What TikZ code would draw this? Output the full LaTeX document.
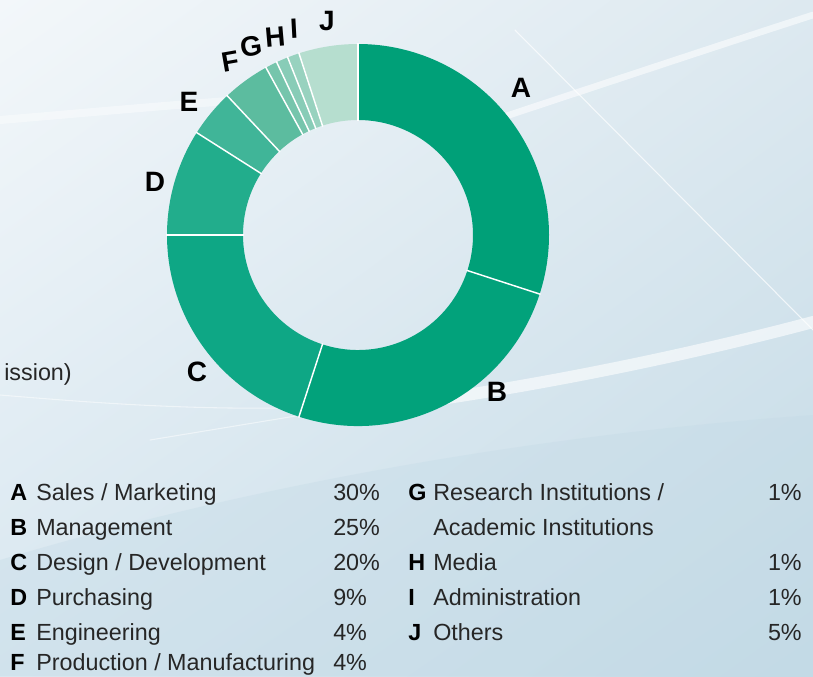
\documentclass[tikz,border=0pt]{standalone}
\usepackage{fontspec}
\setmainfont{Liberation Sans}
\usetikzlibrary{positioning,shadings}
\definecolor{segA}{HTML}{00A078}
\definecolor{segB}{HTML}{02A27B}
\definecolor{segC}{HTML}{0EA785}
\definecolor{segD}{HTML}{22AD8C}
\definecolor{segE}{HTML}{40B598}
\definecolor{segF}{HTML}{5CBC9F}
\definecolor{segG}{HTML}{76C5AC}
\definecolor{segH}{HTML}{88CCB7}
\definecolor{segI}{HTML}{98D2BF}
\definecolor{segJ}{HTML}{B6DECF}
\definecolor{bgTL}{HTML}{F3F7FA}
\definecolor{bgTR}{HTML}{DDE9F0}
\definecolor{bgBL}{HTML}{D8E7F0}
\definecolor{bgBR}{HTML}{C3DAE6}
\tikzset{
	seglabel/.style = {
		font=\bfseries\fontsize{21}{21}\selectfont,
		text=black,
		inner sep=0pt
	},
	legkey/.style = {
		anchor=base west,
		font=\bfseries\fontsize{17.5}{17.5}\selectfont,
		inner sep=0pt
	},
	legtext/.style = {
		anchor=base west,
		font=\fontsize{17.5}{17.5}\selectfont,
		text=black!85,
		inner sep=0pt
	},
	legval/.style = {
		legtext,
		anchor=base east
	},
	swoosh/.style = {
		white,
		line cap=round
	}
}

\begin{document}
\begin{tikzpicture}[x=0.75pt,y=-0.75pt]
	\useasboundingbox (0,0) rectangle (813,676);
	\shade[upper left=bgTL, upper right=bgTR, lower left=bgBL, lower right=bgBR] (0,0) rectangle (813,676);
	\fill[bgBR, opacity=.35] (0,676) -- (0,560) .. controls (300,470) and (600,430) .. (813,415) -- (813,676) -- cycle;
	\draw[swoosh, opacity=.55, line width=5pt] (470,128) .. controls (600,85) and (720,45) .. (813,15);
	\draw[swoosh, opacity=.7, line width=.8pt] (515,30) -- (813,330);
	\draw[swoosh, opacity=.6, line width=9pt] (420,402) .. controls (560,382) and (700,352) .. (813,322);
	\draw[swoosh, opacity=.5, line width=.8pt] (0,395) .. controls (120,405) and (250,415) .. (420,402);
	\draw[swoosh, opacity=.4, line width=6pt] (0,120) .. controls (120,110) and (220,100) .. (330,95);
	\draw[swoosh, opacity=.5, line width=.8pt] (150,440) -- (320,412);
	\begin{scope}[shift={(358,235)}, x=0.75pt, y=0.75pt]
		\coordinate (ctr) at (0,0);
		\foreach \s/\e/\c in {90/-18/segA, -18/-108/segB, -108/-180/segC, 180/147.6/segD, 147.6/133.2/segE,
			133.2/118.8/segF, 118.8/115.2/segG, 115.2/111.6/segH, 111.6/108/segI, 108/90/segJ}
			\fill[\c] (\s:191) arc[start angle=\s, end angle=\e, radius=191] -- (\e:115) arc[start angle=\e, end angle=\s, radius=115] -- cycle;
		\foreach \a in {90, -18, -108, 180, 147.6, 133.2, 118.8, 115.2, 111.6, 108}
			\draw[white, line width=1.1pt] (\a:114) -- (\a:192);
	\end{scope}
	\node[seglabel] (labA) at (521,88) {A};
	\node[seglabel] (labB) at (497,392) {B};
	\node[seglabel] (labC) at (197,372) {C};
	\node[seglabel] (labD) at (155,182) {D};
	\node[seglabel] (labE) at (189,102) {E};
	\node[seglabel, rotate=10] (labF) at (230,62) {F};
	\node[seglabel, rotate=8] (labG) at (251,46) {G};
	\node[seglabel, rotate=5] (labH) at (275,37) {H};
	\node[seglabel, rotate=3] (labI) at (294,29) {I};
	\node[seglabel] (labJ) at (327,21) {J};
	\node[legtext, anchor=base east] (cutoff) at (72,380) {ission)};
	\node[legkey] (keyA) at (10,500) {A};
	\node[legtext] (txtA) at (36,500) {Sales / Marketing};
	\node[legtext] (valA) at (333,500) {30\%};
	\node[legkey] (keyB) at (10,535) {B};
	\node[legtext] (txtB) at (36,535) {Management};
	\node[legtext] (valB) at (333,535) {25\%};
	\node[legkey] (keyC) at (10,570) {C};
	\node[legtext] (txtC) at (36,570) {Design / Development};
	\node[legtext] (valC) at (333,570) {20\%};
	\node[legkey] (keyD) at (10,605) {D};
	\node[legtext] (txtD) at (36,605) {Purchasing};
	\node[legtext] (valD) at (333,605) {9\%};
	\node[legkey] (keyE) at (10,640) {E};
	\node[legtext] (txtE) at (36,640) {Engineering};
	\node[legtext] (valE) at (333,640) {4\%};
	\node[legkey] (keyF) at (10,670.5) {F};
	\node[legtext] (txtF) at (36,670.5) {Production / Manufacturing};
	\node[legtext] (valF) at (333,670.5) {4\%};
	\node[legkey] (keyG) at (408,500) {G};
	\node[legtext] (txtG) at (433,500) {Research Institutions /};
	\node[legtext] (txtGb) at (433,535) {Academic Institutions};
	\node[legval] (valG) at (802,500) {1\%};
	\node[legkey] (keyH) at (408,570) {H};
	\node[legtext] (txtH) at (433,570) {Media};
	\node[legval] (valH) at (802,570) {1\%};
	\node[legkey] (keyI) at (408,605) {I};
	\node[legtext] (txtI) at (433,605) {Administration};
	\node[legval] (valI) at (802,605) {1\%};
	\node[legkey] (keyJ) at (408,640) {J};
	\node[legtext] (txtJ) at (433,640) {Others};
	\node[legval] (valJ) at (802,640) {5\%};
\end{tikzpicture}
\end{document}
